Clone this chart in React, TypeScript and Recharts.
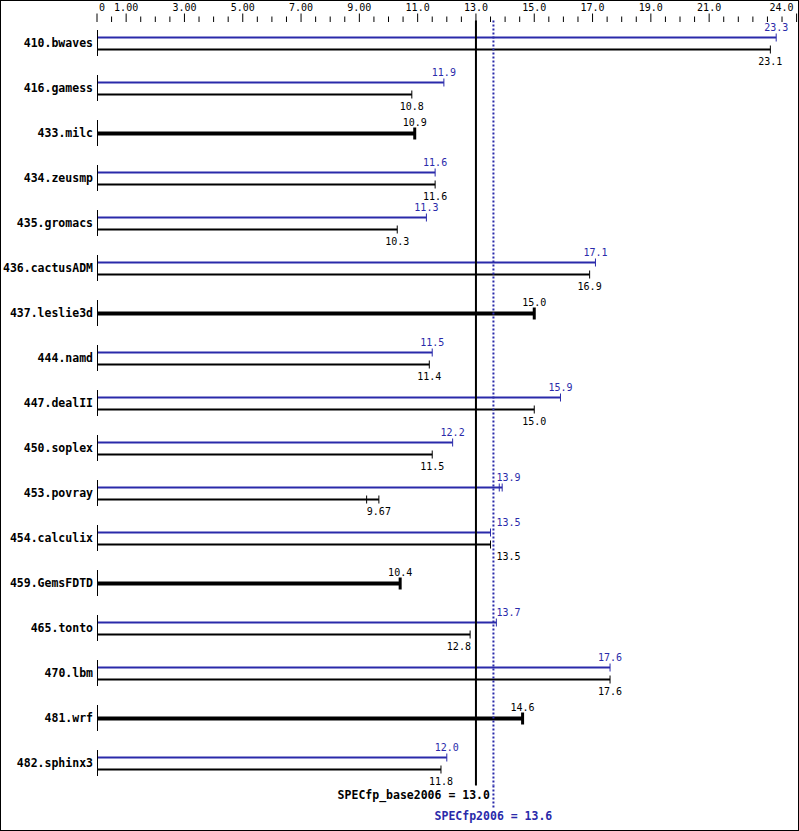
import React from 'react';
import { BarChart, Bar, XAxis, YAxis, ReferenceLine } from 'recharts';

const BLUE = '#2a2aaa';
const FONT = '"DejaVu Sans Mono", monospace';

const categories = [
  '410.bwaves', '416.gamess', '433.milc', '434.zeusmp', '435.gromacs',
  '436.cactusADM', '437.leslie3d', '444.namd', '447.dealII', '450.soplex',
  '453.povray', '454.calculix', '459.GemsFDTD', '465.tonto', '470.lbm',
  '481.wrf', '482.sphinx3',
];
// peak ratio (blue), null where only a base result was run
const peakValues = [23.3, 11.9, null, 11.6, 11.3, 17.1, null, 11.5, 15.9, 12.2, 13.9, 13.5, null, 13.7, 17.6, null, 12.0];
const baseValues = [23.1, 10.8, 10.9, 11.6, 10.3, 16.9, 15.0, 11.4, 15.0, 11.5, 9.67, 13.5, 10.4, 12.8, 17.6, 14.6, 11.8];
// the other run's ratio, drawn as an extra tick
const peakOtherRun = [null, null, null, null, null, null, null, null, null, null, 13.8, null, null, null, null, null, null];
const baseOtherRun = [null, null, null, null, null, null, null, null, null, null, 9.25, null, null, null, null, null, null];

const baseMean = 13.0;
const peakMean = 13.6;

const majorTicks = [0, 1, 3, 5, 7, 9, 11, 13, 15, 17, 19, 21, 24];
const allTicks = [
  0, 0.5, 1, 1.5, 2, 2.5, 3, 3.5, 4, 4.5, 5, 5.5, 6, 6.5, 7, 7.5, 8, 8.5, 9, 9.5,
  10, 10.5, 11, 11.5, 12, 12.5, 13, 13.5, 14, 14.5, 15, 15.5, 16, 16.5, 17, 17.5,
  18, 18.5, 19, 19.5, 20, 20.5, 21, 21.5, 22, 22.5, 23, 23.5, 24,
];

const data = categories.map((name, i) => ({
  name,
  peak: peakValues[i],
  base: baseValues[i],
  peakAlt: peakOtherRun[i],
  baseAlt: baseOtherRun[i],
}));

const fmt = (v: number) => (v >= 10 ? v.toFixed(1) : v.toFixed(2));

// keep value labels clear of the two mean lines
function labelPos(endX: number, x0: number, ppu: number, text: string) {
  const half = (text.length * 6.02) / 2;
  const bx = x0 + baseMean * ppu;
  const px = x0 + peakMean * ppu;
  if (endX + half > bx - 2 && endX - half < px + 2) {
    return endX < bx ? { x: bx - 5, anchor: 'end' } : { x: px + 3, anchor: 'start' };
  }
  return { x: endX, anchor: 'middle' };
}

const PeakShape = (props: any) => {
  const { x, y, width, height, payload } = props;
  if (payload.peak == null || !width) return null;
  const ly = y + height / 2;
  const ppu = width / payload.peak;
  const ex = x + width;
  const txt = fmt(payload.peak);
  const pos = labelPos(ex, x, ppu, txt);
  return (
    <g>
      <line x1={x} x2={ex} y1={ly} y2={ly} stroke={BLUE} strokeWidth={2} />
      <line x1={ex} x2={ex} y1={ly - 4} y2={ly + 4} stroke={BLUE} strokeWidth={1} />
      {payload.peakAlt != null && (
        <line x1={x + payload.peakAlt * ppu} x2={x + payload.peakAlt * ppu} y1={ly - 4} y2={ly + 4} stroke={BLUE} strokeWidth={1} />
      )}
      <text x={pos.x} y={ly - 6.5} textAnchor={pos.anchor} fill={BLUE} fontSize={10} fontFamily={FONT}>
        {txt}
      </text>
    </g>
  );
};

const BaseShape = (props: any) => {
  const { x, y, width, height, payload } = props;
  if (!width) return null;
  const single = payload.peak == null;
  const ly = single ? y : y + height / 2;
  const ppu = width / payload.base;
  const ex = x + width;
  const txt = fmt(payload.base);
  const pos = labelPos(ex, x, ppu, txt);
  return (
    <g>
      <line x1={x} x2={ex} y1={ly} y2={ly} stroke="#000" strokeWidth={single ? 4 : 2} />
      <line
        x1={ex} x2={ex}
        y1={ly - (single ? 6 : 4)} y2={ly + (single ? 6 : 4)}
        stroke="#000" strokeWidth={single ? 3 : 1}
      />
      {payload.baseAlt != null && (
        <line x1={x + payload.baseAlt * ppu} x2={x + payload.baseAlt * ppu} y1={ly - 4} y2={ly + 4} stroke="#000" strokeWidth={1} />
      )}
      <text
        x={pos.x}
        y={single ? ly - 7.5 : ly + 15.5}
        textAnchor={pos.anchor}
        fill="#000" fontSize={10} fontFamily={FONT}
      >
        {txt}
      </text>
    </g>
  );
};

const NameTick = (props: any) => {
  const { x, y, payload } = props;
  return (
    <g>
      <text x={x} y={y} dy={4} textAnchor="end" fontWeight="bold" fontSize={11.5} fontFamily={FONT} fill="#000">
        {payload.value}
      </text>
      <line x1={x + 4.5} x2={x + 4.5} y1={y - 13} y2={y + 13} stroke="#000" strokeWidth={1} />
    </g>
  );
};

const ScaleTick = (props: any) => {
  const { x, y, payload } = props;
  const v = payload.value as number;
  const major = majorTicks.includes(v);
  let anchor = 'middle';
  let tx = x;
  if (v === 0) { anchor = 'start'; tx = x + 2; }
  if (v === 24) { anchor = 'end'; tx = x - 3; }
  const label = v === 0 ? '0' : v < 10 ? v.toFixed(2) : v.toFixed(1);
  return (
    <g>
      <line x1={x} x2={x} y1={y - (major ? 7 : 4)} y2={y + 1.5} stroke="#000" strokeWidth={1} />
      {major && (
        <text x={tx} y={y - 10} textAnchor={anchor} fontSize={10} fontFamily={FONT} fill="#000">
          {label}
        </text>
      )}
    </g>
  );
};

const BaseMeanLabel = (props: any) => {
  const vb = props.viewBox || {};
  const bottom = vb.y + vb.height;
  return (
    <text x={vb.x + 14} y={bottom + 13.5} textAnchor="end" fontWeight="bold" fontSize={11.5} fontFamily={FONT} fill="#000">
      {`SPECfp_base2006 = ${baseMean.toFixed(1)}`}
    </text>
  );
};

const PeakMeanLabel = (props: any) => {
  const vb = props.viewBox || {};
  const bottom = vb.y + vb.height;
  return (
    <g>
      <line x1={vb.x} x2={vb.x} y1={bottom} y2={bottom + 22} stroke={BLUE} strokeWidth={2} strokeDasharray="2 2" />
      <text x={vb.x} y={bottom + 34.5} textAnchor="middle" fontWeight="bold" fontSize={11.5} fontFamily={FONT} fill={BLUE}>
        {`SPECfp2006 = ${peakMean.toFixed(1)}`}
      </text>
    </g>
  );
};

export default function App() {
  return (
    <div style={{ position: 'absolute', left: 0, top: 0, width: 799, height: 831, background: '#fff' }}>
      <BarChart
        width={799}
        height={831}
        data={data}
        layout="vertical"
        margin={{ top: 0, right: 2.4, bottom: 45.5, left: 0 }}
        barGap={0}
        barSize={12}
      >
        <XAxis
          type="number"
          orientation="top"
          domain={[0, 24]}
          ticks={allTicks}
          interval={0}
          height={20.5}
          axisLine={false}
          tickLine={false}
          tickSize={0}
          tickMargin={0}
          tick={<ScaleTick />}
        />
        <YAxis
          type="category"
          dataKey="name"
          width={97}
          axisLine={false}
          tickLine={false}
          tickSize={0}
          tickMargin={4}
          interval={0}
          tick={<NameTick />}
        />
        <ReferenceLine x={peakMean} stroke={BLUE} strokeWidth={2} strokeDasharray="2 2" label={<PeakMeanLabel />} />
        <Bar dataKey="peak" isAnimationActive={false} shape={<PeakShape />} />
        <Bar dataKey="base" isAnimationActive={false} shape={<BaseShape />} />
        <ReferenceLine x={baseMean} stroke="#000" strokeWidth={2} label={<BaseMeanLabel />} />
      </BarChart>
      <div style={{ position: 'absolute', inset: 0, border: '1px solid #000', boxSizing: 'border-box', pointerEvents: 'none' }} />
    </div>
  );
}
